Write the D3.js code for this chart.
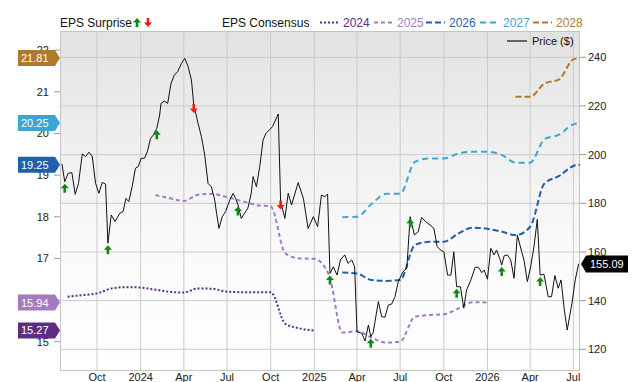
<!DOCTYPE html>
<html>
<head>
<meta charset="utf-8">
<script src="https://cdn.jsdelivr.net/npm/d3@7"></script>
<style>
  body { margin: 0; background: #fff; }
  svg { display: block; font-family: "Liberation Sans", Arial, sans-serif; }
</style>
</head>
<body>
<div id="chart"></div>
<script>
// weekly close
const price = [
  ["2023-07-19",196.2],["2023-07-25",188.9],["2023-08-01",192.3],["2023-08-09",192.6],["2023-08-16",183.7],
  ["2023-08-23",188.2],["2023-08-31",200.3],["2023-09-07",199.2],["2023-09-14",201.0],["2023-09-21",199.2],
  ["2023-09-28",188.2],["2023-10-05",184.1],["2023-10-12",188.6],["2023-10-19",187.9],["2023-10-24",163.6],
  ["2023-10-31",175.2],["2023-11-08",172.5],["2023-11-18",175.9],["2023-11-25",176.6],["2023-12-01",182.0],
  ["2023-12-07",180.7],["2023-12-14",186.8],["2023-12-21",194.4],["2023-12-27",195.1],["2024-01-02",198.5],
  ["2024-01-09",198.5],["2024-01-15",201.2],["2024-01-22",206.7],["2024-01-28",208.1],["2024-02-04",210.8],
  ["2024-02-10",216.3],["2024-02-13",221.1],["2024-02-20",222.0],["2024-02-27",221.1],["2024-03-05",229.3],
  ["2024-03-12",232.7],["2024-03-19",234.1],["2024-03-27",237.5],["2024-04-03",239.6],["2024-04-10",236.2],
  ["2024-04-17",230.7],["2024-04-22",220.4],["2024-05-01",212.9],["2024-05-08",207.4],["2024-05-15",199.9],
  ["2024-05-22",188.2],["2024-05-29",186.8],["2024-06-05",181.4],["2024-06-09",175.9],["2024-06-14",169.7],
  ["2024-06-21",174.5],["2024-06-28",176.6],["2024-07-07",181.4],["2024-07-14",184.1],["2024-07-19",182.0],
  ["2024-07-24",179.5],["2024-07-31",173.8],["2024-08-07",175.9],["2024-08-14",178.0],["2024-08-21",184.0],
  ["2024-08-25",191.0],["2024-09-01",186.8],["2024-09-08",195.1],["2024-09-15",206.0],["2024-09-21",208.7],
  ["2024-09-28",210.1],["2024-10-05",211.5],["2024-10-17",216.7],["2024-10-22",180.7],["2024-10-31",173.8],
  ["2024-11-07",184.1],["2024-11-14",179.3],["2024-11-28",188.5],["2024-12-09",182.0],["2024-12-19",169.7],
  ["2024-12-30",174.5],["2025-01-08",170.4],["2025-01-16",183.4],["2025-01-23",182.7],["2025-01-29",183.8],
  ["2025-02-03",151.2],["2025-02-10",153.9],["2025-02-18",150.5],["2025-02-25",156.7],["2025-03-06",158.8],
  ["2025-03-13",155.3],["2025-03-21",156.7],["2025-03-27",153.9],["2025-04-01",127.2],["2025-04-11",126.6],
  ["2025-04-18",123.4],["2025-04-25",130.0],["2025-04-30",125.2],["2025-05-05",126.8],["2025-05-16",139.6],
  ["2025-05-23",133.4],["2025-05-30",133.2],["2025-06-06",138.2],["2025-06-13",138.6],["2025-06-20",141.6],
  ["2025-06-27",147.8],["2025-07-07",151.9],["2025-07-15",153.3],["2025-07-22",174.5],["2025-07-31",167.0],
  ["2025-08-08",168.3],["2025-08-15",174.2],["2025-08-24",172.4],["2025-09-02",171.1],["2025-09-10",169.7],
  ["2025-09-17",162.2],["2025-09-24",160.8],["2025-10-01",160.1],["2025-10-09",150.5],["2025-10-16",150.5],
  ["2025-10-22",160.1],["2025-10-28",145.7],["2025-11-05",145.7],["2025-11-12",136.9],["2025-11-18",144.4],
  ["2025-11-27",148.5],["2025-12-06",153.7],["2025-12-13",153.7],["2025-12-20",151.5],["2025-12-25",152.6],
  ["2026-01-01",148.8],["2026-01-08",161.5],["2026-01-15",158.8],["2026-01-20",160.8],["2026-01-26",157.8],
  ["2026-01-31",154.6],["2026-02-05",158.4],["2026-02-12",158.8],["2026-02-19",156.7],["2026-02-26",149.2],
  ["2026-03-05",167.0],["2026-03-14",160.1],["2026-03-19",156.7],["2026-03-26",147.8],["2026-04-02",153.9],
  ["2026-04-09",162.2],["2026-04-16",173.4],["2026-04-22",150.5],["2026-04-30",150.9],["2026-05-09",141.6],
  ["2026-05-16",141.6],["2026-05-23",150.3],["2026-05-30",145.1],["2026-06-05",148.5],["2026-06-12",136.2],
  ["2026-06-18",127.9],["2026-06-28",138.9],["2026-07-05",148.5],["2026-07-12",155.09]
];

// consensus EPS per fiscal year, monthly
const eps2024 = [
  ["2023-07-31",16.08],["2023-09-01",16.12],["2023-10-01",16.16],["2023-11-01",16.28],["2023-12-01",16.31],
  ["2024-01-01",16.30],["2024-02-01",16.25],["2024-03-01",16.20],["2024-04-01",16.18],["2024-05-01",16.28],
  ["2024-06-01",16.27],["2024-07-01",16.20],["2024-08-01",16.19],["2024-09-01",16.19],["2024-10-01",16.19],
  ["2024-11-01",15.43],["2024-12-01",15.32],["2025-01-01",15.27]
];
const eps2025 = [
  ["2024-02-01",18.52],["2024-03-01",18.45],["2024-04-01",18.38],["2024-05-01",18.53],["2024-06-01",18.55],
  ["2024-07-01",18.47],["2024-08-01",18.38],["2024-09-01",18.28],["2024-10-01",18.25],["2024-11-01",17.12],
  ["2024-12-01",17.00],["2025-01-01",16.99],["2025-02-01",16.60],["2025-03-01",15.22],["2025-04-01",15.25],
  ["2025-05-01",15.10],["2025-06-01",14.98],["2025-07-01",15.00],["2025-08-01",15.60],["2025-09-01",15.64],
  ["2025-10-01",15.66],["2025-11-01",15.80],["2025-12-01",15.95],["2026-01-01",15.94]
];
const eps2026 = [
  ["2025-03-01",16.66],["2025-04-01",16.64],["2025-05-01",16.48],["2025-06-01",16.46],["2025-07-01",16.48],
  ["2025-08-01",17.32],["2025-09-01",17.40],["2025-10-01",17.40],["2025-11-01",17.60],["2025-12-01",17.74],
  ["2026-01-01",17.71],["2026-02-01",17.64],["2026-03-01",17.56],["2026-04-01",17.76],["2026-05-01",18.80],
  ["2026-06-01",18.98],["2026-07-01",19.22],["2026-07-15",19.25]
];
const eps2027 = [
  ["2025-03-01",17.99],["2025-04-01",18.00],["2025-05-01",18.30],["2025-06-01",18.55],["2025-07-01",18.55],
  ["2025-08-01",19.32],["2025-09-01",19.40],["2025-10-01",19.40],["2025-11-01",19.52],["2025-12-01",19.56],
  ["2026-01-01",19.56],["2026-02-01",19.48],["2026-03-01",19.30],["2026-04-01",19.30],["2026-05-01",19.86],
  ["2026-06-01",19.97],["2026-07-01",20.22],["2026-07-15",20.25]
];
const eps2028 = [
  ["2026-03-01",20.88],["2026-04-01",20.88],["2026-05-01",21.20],["2026-06-01",21.30],["2026-07-01",21.78],
  ["2026-07-15",21.81]
];

// earnings surprises: date, up/down
const surprises = [
  ["2023-07-25","up"],["2023-10-24","up"],["2024-02-04","up"],["2024-04-22","down"],
  ["2024-07-24","up"],["2024-10-22","down"],["2025-02-03","up"],["2025-04-30","up"],
  ["2025-07-22","up"],["2025-10-28","up"],["2026-01-31","up"],["2026-04-22","up"]
];

const epsTicks = [15, 16, 17, 18, 19, 20, 21, 22];
const priceTicks = [120, 140, 160, 180, 200, 220, 240];
const lastPrice = "155.09";

const series = [
  { name: "2024", data: eps2024, color: "#5c2d83", dash: "2,2", label: "15.27" },
  { name: "2025", data: eps2025, color: "#a57bbf", dash: "4,3", label: "15.94" },
  { name: "2026", data: eps2026, color: "#1f5fae", dash: "6,3", label: "19.25" },
  { name: "2027", data: eps2027, color: "#3ea4d4", dash: "6,4", label: "20.25" },
  { name: "2028", data: eps2028, color: "#b07a2e", dash: "6,3", label: "21.81" }
];

const width = 640, height = 382;
const plot = { left: 60, right: 580, top: 31, bottom: 371 };
const parse = d3.utcParse("%Y-%m-%d");

const x = d3.scaleUtc()
  .domain([parse("2023-07-15"), parse("2026-07-15")])
  .range([plot.left, plot.right]);
const yEps = d3.scaleLinear().domain([15, 22]).range([341.7, 50.2]);
const yPrice = d3.scaleLinear().domain([120, 240]).range([349.3, 57.3]);

const svg = d3.select("#chart").append("svg")
  .attr("width", width).attr("height", height);

const grad = svg.append("defs").append("linearGradient")
  .attr("id", "bg").attr("x1", 0).attr("x2", 0).attr("y1", 0).attr("y2", 1);
grad.append("stop").attr("offset", 0).attr("stop-color", "#e2e2e2");
grad.append("stop").attr("offset", 0.6).attr("stop-color", "#f9f9f9");
grad.append("stop").attr("offset", 1).attr("stop-color", "#ffffff");

svg.append("rect")
  .attr("x", plot.left).attr("y", plot.top)
  .attr("width", plot.right - plot.left).attr("height", plot.bottom - plot.top)
  .attr("fill", "url(#bg)");

// grid
const xTicks = d3.utcMonth.every(3).range(parse("2023-10-01"), parse("2026-07-02"));
svg.append("g").selectAll("line").data(xTicks).join("line")
  .attr("x1", d => x(d)).attr("x2", d => x(d))
  .attr("y1", plot.top).attr("y2", plot.bottom)
  .attr("stroke", "#cbcbcb");
svg.append("g").selectAll("line").data(priceTicks).join("line")
  .attr("x1", plot.left).attr("x2", plot.right)
  .attr("y1", d => yPrice(d)).attr("y2", d => yPrice(d))
  .attr("stroke", "#cbcbcb");
svg.append("rect")
  .attr("x", plot.left + 0.5).attr("y", plot.top + 0.5)
  .attr("width", plot.right - plot.left - 1).attr("height", plot.bottom - plot.top - 1)
  .attr("fill", "none").attr("stroke", "#c4c4c4");

// x labels
const fmtMonth = d3.utcFormat("%b"), fmtYear = d3.utcFormat("%Y");
svg.append("g").selectAll("text").data(xTicks).join("text")
  .attr("x", d => x(d)).attr("y", 381)
  .attr("text-anchor", "middle").attr("font-size", 11).attr("fill", "#222")
  .text(d => d.getUTCMonth() === 0 ? fmtYear(d) : fmtMonth(d));

// left eps axis
const left = svg.append("g");
left.selectAll("line").data(epsTicks).join("line")
  .attr("x1", 54).attr("x2", plot.left)
  .attr("y1", d => yEps(d)).attr("y2", d => yEps(d))
  .attr("stroke", "#999");
left.selectAll("text").data(epsTicks).join("text")
  .attr("x", 49).attr("y", d => yEps(d) + 4)
  .attr("text-anchor", "end").attr("font-size", 11).attr("fill", "#222")
  .text(d => d);

// right price axis
const right = svg.append("g");
right.selectAll("line").data(priceTicks).join("line")
  .attr("x1", plot.right).attr("x2", plot.right + 6)
  .attr("y1", d => yPrice(d)).attr("y2", d => yPrice(d))
  .attr("stroke", "#999");
right.selectAll("text").data(priceTicks).join("text")
  .attr("x", plot.right + 8).attr("y", d => yPrice(d) + 4)
  .attr("font-size", 11).attr("fill", "#222")
  .text(d => d);

// consensus lines
const epsLine = d3.line()
  .x(d => x(parse(d[0])))
  .y(d => yEps(d[1]))
  .curve(d3.curveMonotoneX);
svg.append("g").selectAll("path").data(series).join("path")
  .attr("d", s => epsLine(s.data))
  .attr("fill", "none")
  .attr("stroke", s => s.color)
  .attr("stroke-width", 2)
  .attr("stroke-dasharray", s => s.dash);

// price
const priceLine = d3.line()
  .x(d => x(parse(d[0])))
  .y(d => yPrice(d[1]));
svg.append("path")
  .attr("d", priceLine(price))
  .attr("fill", "none").attr("stroke", "#111").attr("stroke-width", 1);

// surprise arrows sit on the price line
const upArrow = "M0,0L4,4.5L1.3,4.5L1.3,9L-1.3,9L-1.3,4.5L-4,4.5Z";
const downArrow = "M0,9L4,4.5L1.3,4.5L1.3,0L-1.3,0L-1.3,4.5L-4,4.5Z";
const priceAt = date => {
  const t = parse(date);
  const hit = price.find(p => +parse(p[0]) === +t);
  return hit ? hit[1] : price[d3.bisector(p => parse(p[0])).left(price, t)][1];
};
svg.append("g").selectAll("path").data(surprises).join("path")
  .attr("transform", d => `translate(${x(parse(d[0]))},${yPrice(priceAt(d[0])) + (d[1] === "up" ? 2 : -1)})`)
  .attr("d", d => d[1] === "up" ? upArrow : downArrow)
  .attr("fill", d => d[1] === "up" ? "#0d8a16" : "#f01818");

// value tags on the left
const tags = svg.append("g");
tags.selectAll("path").data(series).join("path")
  .attr("d", s => {
    const yy = yEps(+s.label);
    return `M18,${yy - 8}H55L60,${yy}L55,${yy + 8}H18Z`;
  })
  .attr("fill", s => s.color);
tags.selectAll("text").data(series).join("text")
  .attr("x", 21).attr("y", s => yEps(+s.label) + 4)
  .attr("font-size", 11).attr("fill", "#fff")
  .text(s => s.label);

// last price tag on the right
const yl = yPrice(+lastPrice);
svg.append("path")
  .attr("d", `M${plot.right + 1},${yl}L586,${yl - 8.5}H628V${yl + 8.5}H586Z`)
  .attr("fill", "#000");
svg.append("text")
  .attr("x", 590).attr("y", yl + 4)
  .attr("font-size", 11).attr("fill", "#fff")
  .text(lastPrice);

// legend
const legend = svg.append("g").attr("font-size", 12);
legend.append("text").attr("x", 60).attr("y", 27).attr("fill", "#111").text("EPS Surprise");
legend.append("path").attr("transform", "translate(137,18)").attr("d", upArrow).attr("fill", "#0d8a16");
legend.append("path").attr("transform", "translate(148,18)").attr("d", downArrow).attr("fill", "#f01818");
legend.append("text").attr("x", 222).attr("y", 27).attr("fill", "#111").text("EPS Consensus");

const legendX = [320, 374, 426, 480, 533];
series.forEach((s, i) => {
  legend.append("line")
    .attr("x1", legendX[i]).attr("x2", legendX[i] + 19)
    .attr("y1", 22.5).attr("y2", 22.5)
    .attr("stroke", s.color).attr("stroke-width", 2)
    .attr("stroke-dasharray", s.dash);
  legend.append("text")
    .attr("x", legendX[i] + 23).attr("y", 27)
    .attr("fill", s.color).text(s.name);
});

svg.append("line")
  .attr("x1", 507).attr("x2", 527).attr("y1", 41).attr("y2", 41)
  .attr("stroke", "#666").attr("stroke-width", 2);
svg.append("text")
  .attr("x", 532).attr("y", 45).attr("font-size", 11).attr("fill", "#111")
  .text("Price ($)");
</script>
</body>
</html>
